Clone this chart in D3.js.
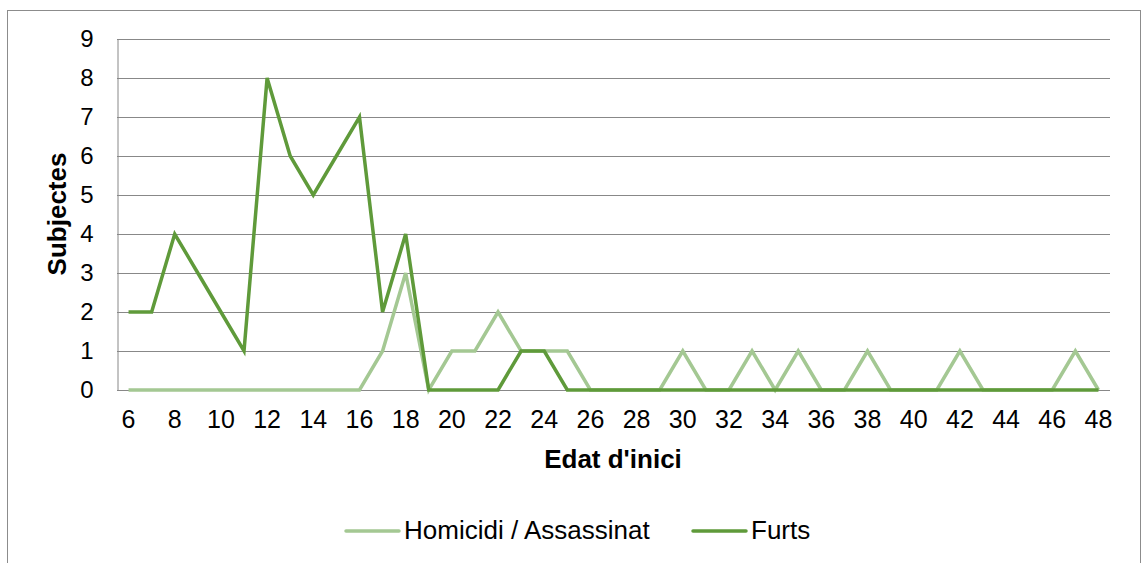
<!DOCTYPE html>
<html>
<head>
<meta charset="utf-8">
<script src="https://cdn.jsdelivr.net/npm/d3@7"></script>
<style>
  body { margin: 0; background: #fff; }
  svg { display: block; font-family: "Liberation Sans", Arial, sans-serif; }
</style>
</head>
<body>
<svg id="chart" width="1142" height="563"></svg>
<script>
// ages (category axis) and counts
const ages = d3.range(6, 49)
const homicidi = [0,0,0,0,0,0,0,0,0,0,0, 1,3,0,1,1,2,1,1,1,0, 0,0,0,1,0,0,1,0,1,0, 0,1,0,0,0,1,0,0,0,0, 1,0]
const furts    = [2,2,4,3,2,1,8,6,5,6,7, 2,4,0,0,0,0,1,1,0,0, 0,0,0,0,0,0,0,0,0,0, 0,0,0,0,0,0,0,0,0,0, 0,0]
const yTicks = [0,1,2,3,4,5,6,7,8,9]
const seriesNames = ["Homicidi / Assassinat", "Furts"]
const seriesColors = ["#a4c893", "#5f9a3a"]

const FONT = "Liberation Sans, Arial, sans-serif"
const svg = d3.select("#chart")
const plot = { left: 117, right: 1110, top: 39, bottom: 390 }

// outer chart frame
svg.append("rect")
  .attr("x", 7.5).attr("y", 10.5)
  .attr("width", 1133).attr("height", 570)
  .attr("fill", "none").attr("stroke", "#8c8c8c")

const x = d3.scaleBand().domain(ages).range([plot.left, plot.right])
const y = d3.scaleLinear().domain([0, 9]).range([plot.bottom, plot.top])

// gridlines
svg.append("g")
  .selectAll("line")
  .data(yTicks)
  .enter()
  .append("line")
  .attr("x1", plot.left).attr("x2", plot.right)
  .attr("y1", d => Math.round(y(d)) + 0.5)
  .attr("y2", d => Math.round(y(d)) + 0.5)
  .attr("stroke", "#888")

// y axis
const yAxis = svg.append("g")
  .attr("transform", `translate(${plot.left + 0.5},0)`)
  .call(d3.axisLeft(y).tickValues(yTicks).tickSize(0).tickPadding(24))
yAxis.select(".domain").attr("stroke", "#888")
yAxis.selectAll("text").attr("font-size", 24).attr("fill", "#000")
  .attr("font-family", FONT)

// x axis
const xAxis = svg.append("g")
  .attr("transform", `translate(0,${Math.round(y(0)) + 0.5})`)
  .call(d3.axisBottom(x).tickValues(ages.filter(a => a % 2 === 0)).tickSize(0).tickPadding(20))
xAxis.select(".domain").remove()
xAxis.selectAll("text").attr("font-size", 25).attr("fill", "#000")
  .attr("font-family", FONT)

// axis titles
svg.append("text")
  .attr("x", 613).attr("y", 468)
  .attr("text-anchor", "middle")
  .attr("font-size", 26).attr("font-weight", "bold")
  .text("Edat d'inici")

svg.append("text")
  .attr("transform", "translate(66,214) rotate(-90)")
  .attr("text-anchor", "middle")
  .attr("font-size", 26).attr("font-weight", "bold")
  .text("Subjectes")

// lines
const line = d3.line()
  .x((d, i) => x(ages[i]) + x.bandwidth() / 2)
  .y(d => y(d))

const series = [homicidi, furts]
svg.append("g")
  .selectAll("path")
  .data(series)
  .enter()
  .append("path")
  .attr("d", d => line(d))
  .attr("fill", "none")
  .attr("stroke", (d, i) => seriesColors[i])
  .attr("stroke-width", 3.5)
  .attr("stroke-linejoin", "miter")

// legend
const legendX = [346, 693]
const legend = svg.append("g")
  .selectAll("g")
  .data(seriesNames)
  .enter()
  .append("g")
  .attr("transform", (d, i) => `translate(${legendX[i]},531)`)

legend.append("line")
  .attr("x1", 0).attr("x2", 53)
  .attr("stroke", (d, i) => seriesColors[i])
  .attr("stroke-width", 3.5)
  .attr("stroke-linecap", "round")

legend.append("text")
  .attr("x", 58).attr("y", 8)
  .attr("font-size", 26)
  .text(d => d)
</script>
</body>
</html>
